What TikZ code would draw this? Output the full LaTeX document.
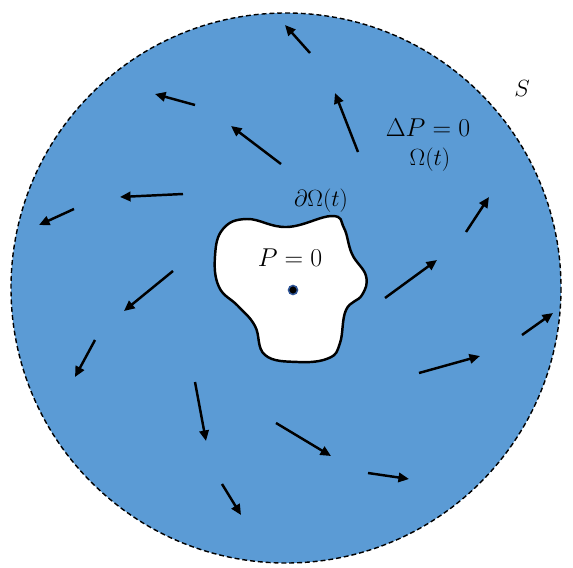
\RequirePackage{fix-cm}
\documentclass[tikz,border=0pt]{standalone}
\usetikzlibrary{arrows.meta}
\definecolor{fluidblue}{RGB}{91,155,213}
\definecolor{ringblue}{RGB}{47,85,151}
\tikzset{
  flow/.style={line width=2.1pt, -{Triangle[length=9pt, width=8pt]}},
  biglabel/.style={font=\fontsize{22}{26}\selectfont, inner sep=0pt},
  smalllabel/.style={font=\fontsize{20}{24}\selectfont, inner sep=0pt}
}
\begin{document}
\begin{tikzpicture}[x=0.03cm, y=-0.03cm]
    \def\R{275}
    \useasboundingbox (0,0) rectangle (573,567);

    % Outer domain bounded by S
    \draw[fill=fluidblue, line width=1.2pt, dash pattern=on 4.2pt off 2.5pt] (286,288) circle (\R);

    % Velocity arrows in the fluid
    \foreach \xa/\ya/\xb/\yb in {310/53/285/25, 195/105/155/94, 358/152/335/93,
        281/164/231/126, 183/194/120/197, 74/209/39/225, 466/232/489/197,
        385/298/437/260, 173/271/124/311, 95/340/75/377, 522/335/553/313,
        419/373/480/356, 195/382/206/441, 276/423/331/456, 368/473/409/479,
        222/484/241/515}
        \draw[flow] (\xa,\ya) -- (\xb,\yb);

    % Air bubble Omega(t)
    \draw[fill=white, line width=2.1pt] plot[smooth cycle, tension=0.7] coordinates {
        (223,229) (247,219) (287,227) (332,216) (344,228) (352,254) (366,276)
        (362,295) (346,310) (340,343) (329,358) (298,362) (265,355) (255,326)
        (238,306) (219,287) (215,256)};

    % Sink at the centre
    \filldraw[fill=black, draw=ringblue, line width=1.3pt] (293,290) circle (4.5);

    % Labels
    \node[biglabel] (pzero) at (290,258) {$P=0$};
    \node[smalllabel] (bdry) at (321,201) {$\partial\Omega(t)$};
    \node[biglabel] (lap) at (428,128) {$\Delta P=0$};
    \node[smalllabel] (omega) at (430,160) {$\Omega(t)$};
    \node[font=\fontsize{20}{24}\selectfont, inner sep=0pt] (surf) at (522,88) {$S$};
\end{tikzpicture}
\end{document}
